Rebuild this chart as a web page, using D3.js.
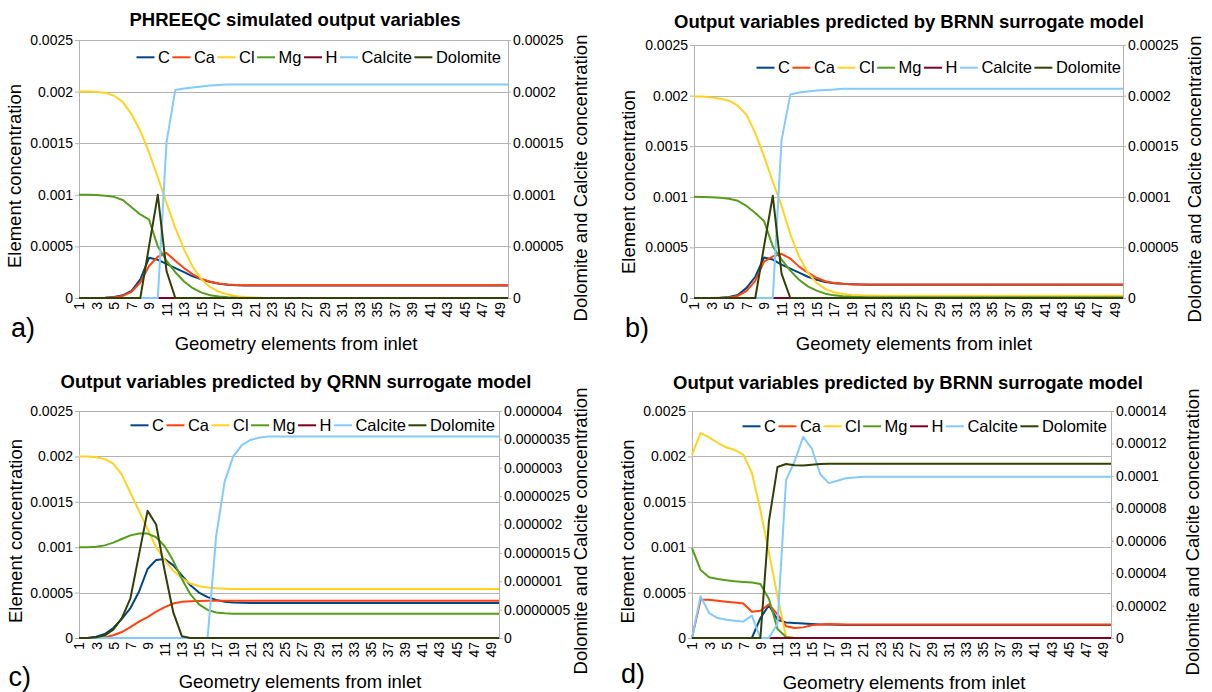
<!DOCTYPE html>
<html>
<head>
<meta charset="utf-8">
<script src="https://cdn.jsdelivr.net/npm/d3@7"></script>
<style>
body { margin: 0; background: #fff; }
svg { display: block; font-family: "Liberation Sans", Arial, sans-serif; }
</style>
</head>
<body>
<svg id="chart" width="1212" height="692"></svg>
<script>

// categories: geometry elements 1..50
const categories = [1, 2, 3, 4, 5, 6, 7, 8, 9, 10, 11, 12, 13, 14, 15, 16, 17, 18, 19, 20,
	21, 22, 23, 24, 25, 26, 27, 28, 29, 30, 31, 32, 33, 34, 35, 36, 37, 38, 39, 40,
	41, 42, 43, 44, 45, 46, 47, 48, 49, 50];
const xTickLabels = [1, 3, 5, 7, 9, 11, 13, 15, 17, 19, 21, 23, 25, 27, 29, 31, 33, 35, 37, 39, 41, 43, 45, 47, 49];

const leftTickLabels = ['0', '0.0005', '0.001', '0.0015', '0.002', '0.0025'];
const rightTickLabelsAB = ['0', '0.00005', '0.0001', '0.00015', '0.0002', '0.00025'];
const rightTickLabelsC = ['0', '0.0000005', '0.000001', '0.0000015', '0.000002', '0.0000025', '0.000003', '0.0000035', '0.000004'];
const rightTickLabelsD = ['0', '0.00002', '0.00004', '0.00006', '0.00008', '0.0001', '0.00012', '0.00014'];

const seriesNames = ['C', 'Ca', 'Cl', 'Mg', 'H', 'Calcite', 'Dolomite'];

// H reads as zero in all four panels
const H_values = [0, 0, 0, 0, 0, 0, 0, 0, 0, 0, 0, 0, 0, 0, 0, 0, 0, 0, 0, 0,
	0, 0, 0, 0, 0, 0, 0, 0, 0, 0, 0, 0, 0, 0, 0, 0, 0, 0, 0, 0,
	0, 0, 0, 0, 0, 0, 0, 0, 0, 0];

// a) PHREEQC
const C_a = [0, 0, 0.000001, 0.000003, 0.00001, 0.000026, 0.00007, 0.00018, 0.00039, 0.00037,
	0.00033, 0.00029, 0.00025, 0.00021, 0.00018, 0.000155, 0.000138, 0.000128, 0.000123, 0.000121,
	0.00012, 0.00012, 0.00012, 0.00012, 0.00012, 0.00012, 0.00012, 0.00012, 0.00012, 0.00012,
	0.00012, 0.00012, 0.00012, 0.00012, 0.00012, 0.00012, 0.00012, 0.00012, 0.00012, 0.00012,
	0.00012, 0.00012, 0.00012, 0.00012, 0.00012, 0.00012, 0.00012, 0.00012, 0.00012, 0.00012];
const Ca_a = [0, 0, 0.000001, 0.000003, 0.000008, 0.00002, 0.00006, 0.00015, 0.00031, 0.0004,
	0.000436, 0.00036, 0.00029, 0.00023, 0.000184, 0.000157, 0.000141, 0.000131, 0.000126, 0.000124,
	0.000123, 0.000123, 0.000123, 0.000123, 0.000123, 0.000123, 0.000123, 0.000123, 0.000123, 0.000123,
	0.000123, 0.000123, 0.000123, 0.000123, 0.000123, 0.000123, 0.000123, 0.000123, 0.000123, 0.000123,
	0.000123, 0.000123, 0.000123, 0.000123, 0.000123, 0.000123, 0.000123, 0.000123, 0.000123, 0.000123];
const Cl_a = [0.002, 0.002, 0.001995, 0.00199, 0.00196, 0.0019, 0.00178, 0.00162, 0.00141, 0.00117,
	0.00092, 0.00068, 0.00047, 0.0003, 0.00018, 0.000105, 0.00006, 0.000033, 0.000017, 0.000009,
	0.000005, 0.000002, 0.000001, 0, 0, 0, 0, 0, 0, 0,
	0, 0, 0, 0, 0, 0, 0, 0, 0, 0,
	0, 0, 0, 0, 0, 0, 0, 0, 0, 0];
const Mg_a = [0.001, 0.001, 0.000998, 0.00099, 0.00098, 0.00095, 0.00088, 0.00081, 0.00076, 0.0005,
	0.00036, 0.00025, 0.00016, 0.000095, 0.000052, 0.000027, 0.000014, 0.000007, 0.000003, 0.000001,
	0, 0, 0, 0, 0, 0, 0, 0, 0, 0,
	0, 0, 0, 0, 0, 0, 0, 0, 0, 0,
	0, 0, 0, 0, 0, 0, 0, 0, 0, 0];
const Calcite_a = [0, 0, 0, 0, 0, 0, 0, 0, 0, 0,
	0.000151, 0.0002016, 0.000203, 0.000204, 0.000205, 0.000206, 0.0002065, 0.000207, 0.000207, 0.000207,
	0.000207, 0.000207, 0.000207, 0.000207, 0.000207, 0.000207, 0.000207, 0.000207, 0.000207, 0.000207,
	0.000207, 0.000207, 0.000207, 0.000207, 0.000207, 0.000207, 0.000207, 0.000207, 0.000207, 0.000207,
	0.000207, 0.000207, 0.000207, 0.000207, 0.000207, 0.000207, 0.000207, 0.000207, 0.000207, 0.000207];
const Dolomite_a = [0, 0, 0, 0, 0, 0, 0, 0, 0.00005, 0.0001,
	0.000026, 0, 0, 0, 0, 0, 0, 0, 0, 0,
	0, 0, 0, 0, 0, 0, 0, 0, 0, 0,
	0, 0, 0, 0, 0, 0, 0, 0, 0, 0,
	0, 0, 0, 0, 0, 0, 0, 0, 0, 0];

// b) BRNN
const C_b = [0, 0, 0, 0.000003, 0.00001, 0.00003, 0.0001, 0.00021, 0.0004, 0.00038,
	0.00033, 0.00029, 0.00025, 0.00021, 0.00018, 0.000158, 0.000146, 0.00014, 0.000136, 0.000133,
	0.00013, 0.00013, 0.00013, 0.00013, 0.00013, 0.00013, 0.00013, 0.00013, 0.00013, 0.00013,
	0.00013, 0.00013, 0.00013, 0.00013, 0.00013, 0.00013, 0.00013, 0.00013, 0.00013, 0.00013,
	0.00013, 0.00013, 0.00013, 0.00013, 0.00013, 0.00013, 0.00013, 0.00013, 0.00013, 0.00013];
const Ca_b = [0, 0, 0, 0.000002, 0.000005, 0.00002, 0.00007, 0.00017, 0.00036, 0.00041,
	0.000436, 0.00039, 0.00031, 0.00025, 0.0002, 0.000165, 0.000148, 0.00014, 0.000136, 0.000134,
	0.000133, 0.000133, 0.000133, 0.000133, 0.000133, 0.000133, 0.000133, 0.000133, 0.000133, 0.000133,
	0.000133, 0.000133, 0.000133, 0.000133, 0.000133, 0.000133, 0.000133, 0.000133, 0.000133, 0.000133,
	0.000133, 0.000133, 0.000133, 0.000133, 0.000133, 0.000133, 0.000133, 0.000133, 0.000133, 0.000133];
const Cl_b = [0.00199, 0.00199, 0.00198, 0.00197, 0.00195, 0.0019, 0.00181, 0.00163, 0.0014, 0.00115,
	0.00091, 0.00063, 0.00041, 0.00025, 0.00015, 0.00009, 0.000056, 0.00004, 0.00003, 0.000026,
	0.000024, 0.000023, 0.000023, 0.000023, 0.000023, 0.000023, 0.000023, 0.000023, 0.000023, 0.000023,
	0.000023, 0.000023, 0.000023, 0.000023, 0.000023, 0.000023, 0.000023, 0.000023, 0.000023, 0.000023,
	0.000023, 0.000023, 0.000023, 0.000023, 0.000023, 0.000023, 0.000023, 0.000023, 0.000023, 0.000023];
const Mg_b = [0.001, 0.000998, 0.000995, 0.00099, 0.00098, 0.00096, 0.00091, 0.00084, 0.00076, 0.00051,
	0.00038, 0.00027, 0.00018, 0.000115, 0.000073, 0.000043, 0.000026, 0.000017, 0.000012, 0.00001,
	0.000008, 0.000008, 0.000008, 0.000008, 0.000008, 0.000008, 0.000008, 0.000008, 0.000008, 0.000008,
	0.000008, 0.000008, 0.000008, 0.000008, 0.000008, 0.000008, 0.000008, 0.000008, 0.000008, 0.000008,
	0.000008, 0.000008, 0.000008, 0.000008, 0.000008, 0.000008, 0.000008, 0.000008, 0.000008, 0.000008];
const Calcite_b = [0, 0, 0, 0, 0, 0, 0, 0, 0, 0,
	0.000156, 0.000201, 0.000203, 0.000204, 0.000205, 0.0002055, 0.000206, 0.0002068, 0.0002068, 0.0002068,
	0.0002068, 0.0002068, 0.0002068, 0.0002068, 0.0002068, 0.0002068, 0.0002068, 0.0002068, 0.0002068, 0.0002068,
	0.0002068, 0.0002068, 0.0002068, 0.0002068, 0.0002068, 0.0002068, 0.0002068, 0.0002068, 0.0002068, 0.0002068,
	0.0002068, 0.0002068, 0.0002068, 0.0002068, 0.0002068, 0.0002068, 0.0002068, 0.0002068, 0.0002068, 0.0002068];
const Dolomite_b = [0, 0, 0, 0, 0, 0, 0, 0, 0.000051, 0.000101,
	0.000024, 0, 0, 0, 0, 0, 0, 0, 0, 0,
	0, 0, 0, 0, 0, 0, 0, 0, 0, 0,
	0, 0, 0, 0, 0, 0, 0, 0, 0, 0,
	0, 0, 0, 0, 0, 0, 0, 0, 0, 0];

// c) QRNN
const C_c = [0, 0, 0.000015, 0.000044, 0.00011, 0.00021, 0.00033, 0.00051, 0.00076, 0.00086,
	0.00087, 0.0008, 0.00069, 0.00058, 0.0005, 0.00045, 0.00042, 0.0004, 0.00039, 0.000388,
	0.000386, 0.000386, 0.000386, 0.000386, 0.000386, 0.000386, 0.000386, 0.000386, 0.000386, 0.000386,
	0.000386, 0.000386, 0.000386, 0.000386, 0.000386, 0.000386, 0.000386, 0.000386, 0.000386, 0.000386,
	0.000386, 0.000386, 0.000386, 0.000386, 0.000386, 0.000386, 0.000386, 0.000386, 0.000386, 0.000386];
const Ca_c = [0, 0, 0.000002, 0.000007, 0.00003, 0.000066, 0.00012, 0.00018, 0.00023, 0.00029,
	0.00034, 0.00038, 0.0004, 0.000405, 0.000408, 0.00041, 0.00041, 0.00041, 0.00041, 0.00041,
	0.00041, 0.00041, 0.00041, 0.00041, 0.00041, 0.00041, 0.00041, 0.00041, 0.00041, 0.00041,
	0.00041, 0.00041, 0.00041, 0.00041, 0.00041, 0.00041, 0.00041, 0.00041, 0.00041, 0.00041,
	0.00041, 0.00041, 0.00041, 0.00041, 0.00041, 0.00041, 0.00041, 0.00041, 0.00041, 0.00041];
const Cl_c = [0.002, 0.002, 0.00199, 0.00197, 0.00192, 0.0018, 0.0016, 0.0014, 0.0012, 0.001,
	0.00086, 0.00074, 0.00066, 0.0006, 0.00057, 0.000555, 0.000547, 0.000543, 0.000541, 0.00054,
	0.00054, 0.00054, 0.00054, 0.00054, 0.00054, 0.00054, 0.00054, 0.00054, 0.00054, 0.00054,
	0.00054, 0.00054, 0.00054, 0.00054, 0.00054, 0.00054, 0.00054, 0.00054, 0.00054, 0.00054,
	0.00054, 0.00054, 0.00054, 0.00054, 0.00054, 0.00054, 0.00054, 0.00054, 0.00054, 0.00054];
const Mg_c = [0.001, 0.001, 0.001005, 0.00102, 0.00105, 0.00109, 0.00113, 0.00115, 0.00115, 0.00111,
	0.00101, 0.00085, 0.00065, 0.00048, 0.00037, 0.00031, 0.00028, 0.000272, 0.000268, 0.000266,
	0.000266, 0.000266, 0.000266, 0.000266, 0.000266, 0.000266, 0.000266, 0.000266, 0.000266, 0.000266,
	0.000266, 0.000266, 0.000266, 0.000266, 0.000266, 0.000266, 0.000266, 0.000266, 0.000266, 0.000266,
	0.000266, 0.000266, 0.000266, 0.000266, 0.000266, 0.000266, 0.000266, 0.000266, 0.000266, 0.000266];
const Calcite_c = [0, 0, 0, 0, 0, 0, 0, 0, 0, 0,
	0, 0, 0, 0, 0, 0, 0.00000179, 0.00000276, 0.0000032, 0.0000034,
	0.00000349, 0.00000353, 0.00000355, 0.00000355, 0.00000355, 0.00000355, 0.00000355, 0.00000355, 0.00000355, 0.00000355,
	0.00000355, 0.00000355, 0.00000355, 0.00000355, 0.00000355, 0.00000355, 0.00000355, 0.00000355, 0.00000355, 0.00000355,
	0.00000355, 0.00000355, 0.00000355, 0.00000355, 0.00000355, 0.00000355, 0.00000355, 0.00000355, 0.00000355, 0.00000355];
const Dolomite_c = [0, 0, 0.000000012, 0.000000047, 0.000000147, 0.00000035, 0.0000007, 0.00000147, 0.00000224, 0.000002,
	0.00000118, 0.00000045, 0.000000032, 0, 0, 0, 0, 0, 0, 0,
	0, 0, 0, 0, 0, 0, 0, 0, 0, 0,
	0, 0, 0, 0, 0, 0, 0, 0, 0, 0,
	0, 0, 0, 0, 0, 0, 0, 0, 0, 0];

// d) BRNN (second run)
const C_d = [0, 0, 0, 0, 0, 0, 0, 0, 0.00022, 0.00036,
	0.0002, 0.00017, 0.000165, 0.00016, 0.000155, 0.00015, 0.000148, 0.000146, 0.000144, 0.000143,
	0.000143, 0.000143, 0.000143, 0.000143, 0.000143, 0.000143, 0.000143, 0.000143, 0.000143, 0.000143,
	0.000143, 0.000143, 0.000143, 0.000143, 0.000143, 0.000143, 0.000143, 0.000143, 0.000143, 0.000143,
	0.000143, 0.000143, 0.000143, 0.000143, 0.000143, 0.000143, 0.000143, 0.000143, 0.000143, 0.000143];
const Ca_d = [0, 0.00042, 0.00042, 0.00041, 0.0004, 0.00039, 0.00038, 0.00029, 0.0003, 0.00037,
	0.00026, 0.00013, 0.00011, 0.000117, 0.00014, 0.00015, 0.000154, 0.000152, 0.00015, 0.00015,
	0.00015, 0.00015, 0.00015, 0.00015, 0.00015, 0.00015, 0.00015, 0.00015, 0.00015, 0.00015,
	0.00015, 0.00015, 0.00015, 0.00015, 0.00015, 0.00015, 0.00015, 0.00015, 0.00015, 0.00015,
	0.00015, 0.00015, 0.00015, 0.00015, 0.00015, 0.00015, 0.00015, 0.00015, 0.00015, 0.00015];
const Cl_d = [0.00202, 0.002257, 0.00221, 0.00215, 0.0021, 0.00207, 0.00202, 0.00182, 0.00141, 0.00094,
	0.00046, 0.00001, 0, 0, 0, 0, 0, 0, 0, 0,
	0, 0, 0, 0, 0, 0, 0, 0, 0, 0,
	0, 0, 0, 0, 0, 0, 0, 0, 0, 0,
	0, 0, 0, 0, 0, 0, 0, 0, 0, 0];
const Mg_d = [0.00099, 0.00075, 0.00067, 0.00065, 0.000635, 0.000624, 0.000617, 0.00061, 0.000595, 0.00043,
	0.0001, 0.00001, 0, 0, 0, 0, 0, 0, 0, 0,
	0, 0, 0, 0, 0, 0, 0, 0, 0, 0,
	0, 0, 0, 0, 0, 0, 0, 0, 0, 0,
	0, 0, 0, 0, 0, 0, 0, 0, 0, 0];
const Calcite_d = [0, 0.0000258, 0.0000154, 0.0000123, 0.0000112, 0.0000106, 0.0000101, 0.0000138, 0, 0,
	0.000009, 0.0000974, 0.000109, 0.000124, 0.000117, 0.000101, 0.0000955, 0.000097, 0.0000985, 0.000099,
	0.0000995, 0.0000995, 0.0000995, 0.0000995, 0.0000995, 0.0000995, 0.0000995, 0.0000995, 0.0000995, 0.0000995,
	0.0000995, 0.0000995, 0.0000995, 0.0000995, 0.0000995, 0.0000995, 0.0000995, 0.0000995, 0.0000995, 0.0000995,
	0.0000995, 0.0000995, 0.0000995, 0.0000995, 0.0000995, 0.0000995, 0.0000995, 0.0000995, 0.0000995, 0.0000995];
const Dolomite_d = [0, 0, 0, 0, 0, 0, 0, 0, 0, 0.0000722,
	0.0001055, 0.0001073, 0.0001065, 0.0001064, 0.0001068, 0.0001073, 0.0001075, 0.0001075, 0.0001075, 0.0001075,
	0.0001075, 0.0001075, 0.0001075, 0.0001075, 0.0001075, 0.0001075, 0.0001075, 0.0001075, 0.0001075, 0.0001075,
	0.0001075, 0.0001075, 0.0001075, 0.0001075, 0.0001075, 0.0001075, 0.0001075, 0.0001075, 0.0001075, 0.0001075,
	0.0001075, 0.0001075, 0.0001075, 0.0001075, 0.0001075, 0.0001075, 0.0001075, 0.0001075, 0.0001075, 0.0001075];


const colors = ['#004586', '#ff420e', '#ffd320', '#579d1c', '#7e0021', '#83caff', '#314004'];
const onRightAxis = [false, false, false, false, false, true, true];
const gridColor = '#b3b3b3';

const panels = [
	{ title: 'PHREEQC simulated output variables', xTitle: 'Geometry elements from inlet', letter: 'a)',
		series: [C_a, Ca_a, Cl_a, Mg_a, H_values, Calcite_a, Dolomite_a], rightTicks: rightTickLabelsAB,
		left: 79, right: 508, top: 40, bottom: 298,
		titleX: 295, titleY: 25.6, xTitleX: 296, xTitleY: 349.5,
		yLX: 15, yLY: 176, yRX: 581, yRY: 178, letterX: 11, letterY: 337, legendRight: 501, legendY: 57.3 },
	{ title: 'Output variables predicted by BRNN surrogate model', xTitle: 'Geomety elements from inlet', letter: 'b)',
		series: [C_b, Ca_b, Cl_b, Mg_b, H_values, Calcite_b, Dolomite_b], rightTicks: rightTickLabelsAB,
		left: 694, right: 1123, top: 45, bottom: 298,
		titleX: 909, titleY: 28.3, xTitleX: 914, xTitleY: 350,
		yLX: 629, yLY: 182, yRX: 1195, yRY: 179, letterX: 625, letterY: 336.5, legendRight: 1121, legendY: 67.7 },
	{ title: 'Output variables predicted by QRNN surrogate model', xTitle: 'Geometry elements from inlet', letter: 'c)',
		series: [C_c, Ca_c, Cl_c, Mg_c, H_values, Calcite_c, Dolomite_c], rightTicks: rightTickLabelsC,
		left: 79, right: 499, top: 411, bottom: 638,
		titleX: 296, titleY: 387.6, xTitleX: 300, xTitleY: 687.5,
		yLX: 16, yLY: 531, yRX: 581, yRY: 531, letterX: 8.5, letterY: 686, legendRight: 495, legendY: 425.3 },
	{ title: 'Output variables predicted by BRNN surrogate model', xTitle: 'Geometry elements from inlet', letter: 'd)',
		series: [C_d, Ca_d, Cl_d, Mg_d, H_values, Calcite_d, Dolomite_d], rightTicks: rightTickLabelsD,
		left: 692, right: 1111, top: 411, bottom: 638,
		titleX: 908, titleY: 388.6, xTitleX: 904, xTitleY: 689,
		yLX: 628, yLY: 531.5, yRX: 1193, yRY: 532, letterX: 621, letterY: 683, legendRight: 1107, legendY: 426.3 }
];

const svg = d3.select('#chart');

function styleAxis(sel) {
	sel.attr('font-family', null).attr('font-size', 14);
	sel.select('.domain').attr('stroke', gridColor);
	sel.selectAll('.tick line').attr('stroke', gridColor);
	sel.selectAll('.tick text').attr('fill', '#000');
}

function drawPanel(p) {
	let g = svg.append('g');

	let x = d3.scalePoint().domain(categories).range([p.left, p.right]);
	let yLeft = d3.scaleLinear().domain([0, 0.0025]).range([p.bottom, p.top]);
	let rightMax = +p.rightTicks[p.rightTicks.length - 1];
	let yRight = d3.scaleLinear().domain([0, rightMax]).range([p.bottom, p.top]);

	// horizontal grid on the primary axis
	g.append('g').selectAll('line')
	.data(leftTickLabels)
	.join('line')
	.attr('x1', p.left).attr('x2', p.right)
	.attr('y1', d => Math.round(yLeft(+d)) + 0.5)
	.attr('y2', d => Math.round(yLeft(+d)) + 0.5)
	.attr('stroke', gridColor)
	.attr('stroke-width', 1);

	let axisL = d3.axisLeft(yLeft)
	.tickValues(leftTickLabels.map(Number))
	.tickFormat((d, i) => leftTickLabels[i])
	.tickSize(4).tickSizeOuter(0).tickPadding(2);
	g.append('g').attr('transform', `translate(${p.left},0)`).call(axisL).call(styleAxis);

	let axisR = d3.axisRight(yRight)
	.tickValues(p.rightTicks.map(Number))
	.tickFormat((d, i) => p.rightTicks[i])
	.tickSize(3).tickSizeOuter(0).tickPadding(2);
	g.append('g').attr('transform', `translate(${p.right},0)`).call(axisR).call(styleAxis);

	let axisB = d3.axisBottom(x).tickValues(xTickLabels).tickSize(0);
	let gx = g.append('g').attr('transform', `translate(0,${p.bottom})`).call(axisB).call(styleAxis);
	gx.select('.domain').remove();
	gx.selectAll('.tick text')
	.attr('transform', 'rotate(-90)')
	.attr('text-anchor', 'end')
	.attr('x', -4)
	.attr('y', 0)
	.attr('dy', '0.35em');

	// series lines
	for (let s = 0; s < seriesNames.length; s++) {
		let yScale = onRightAxis[s] ? yRight : yLeft;
		let line = d3.line()
		.x((d, i) => x(categories[i]))
		.y(d => yScale(d));
		g.append('path')
		.datum(p.series[s])
		.attr('d', line)
		.attr('fill', 'none')
		.attr('stroke', colors[s])
		.attr('stroke-width', 2)
		.attr('stroke-linejoin', 'round');
	}

	// legend, right aligned inside the plot area
	let legend = g.append('g');
	let items = [];
	for (let s = 0; s < seriesNames.length; s++) {
		let ln = legend.append('line')
		.attr('stroke', colors[s]).attr('stroke-width', 2)
		.attr('y1', p.legendY).attr('y2', p.legendY);
		let tx = legend.append('text')
		.attr('font-size', 16.5)
		.attr('y', p.legendY)
		.attr('dy', '0.35em')
		.text(seriesNames[s]);
		items.push([ln, tx, tx.node().getComputedTextLength()]);
	}
	let lineLen = 18, gapBefore = 3.5, gapAfter = 2.5;
	let total = d3.sum(items, d => lineLen + gapBefore + d[2]) + gapAfter * (items.length - 1);
	let cx = p.legendRight - total;
	for (let [ln, tx, w] of items) {
		ln.attr('x1', cx).attr('x2', cx + lineLen);
		cx += lineLen + gapBefore;
		tx.attr('x', cx);
		cx += w + gapAfter;
	}

	// titles
	g.append('text')
	.attr('x', p.titleX).attr('y', p.titleY)
	.attr('text-anchor', 'middle')
	.attr('font-size', 18.5).attr('font-weight', 'bold')
	.text(p.title);

	g.append('text')
	.attr('x', p.xTitleX).attr('y', p.xTitleY)
	.attr('text-anchor', 'middle')
	.attr('font-size', 18.5)
	.text(p.xTitle);

	g.append('text')
	.attr('transform', `translate(${p.yLX},${p.yLY}) rotate(-90)`)
	.attr('text-anchor', 'middle').attr('dy', '0.35em')
	.attr('font-size', 18.5)
	.text('Element concentration');

	g.append('text')
	.attr('transform', `translate(${p.yRX},${p.yRY}) rotate(-90)`)
	.attr('text-anchor', 'middle').attr('dy', '0.35em')
	.attr('font-size', 18.5)
	.text('Dolomite and Calcite concentration');

	g.append('text')
	.attr('x', p.letterX).attr('y', p.letterY)
	.attr('font-size', 27)
	.text(p.letter);
}

for (let p of panels) {
	drawPanel(p);
}

</script>
</body>
</html>
